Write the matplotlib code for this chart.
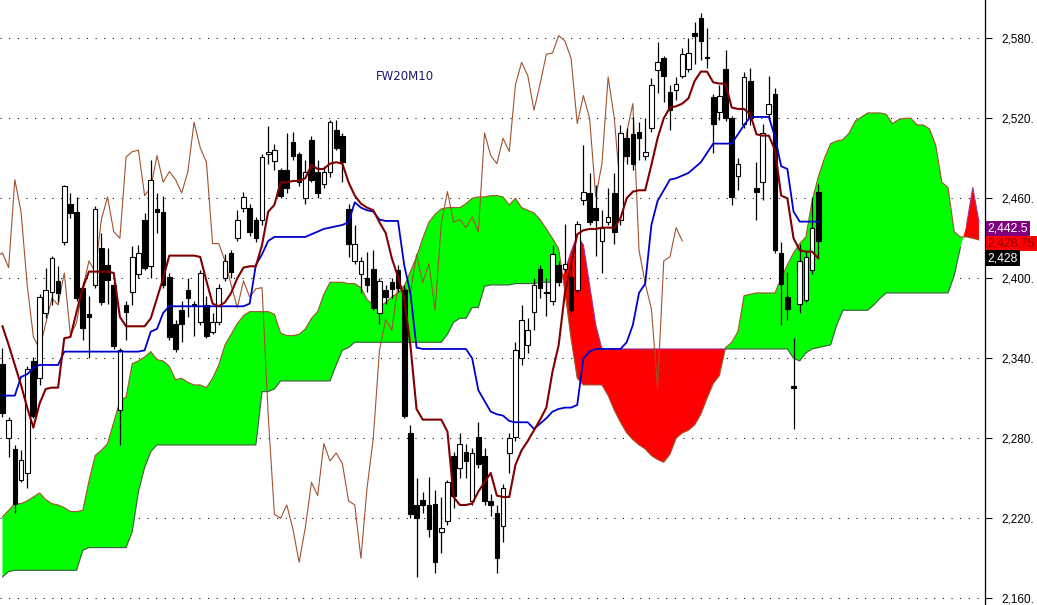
import numpy as np
import matplotlib
matplotlib.use("Agg")
import matplotlib.pyplot as plt

chart_title = "FW20M10"

# daily candles (open, high, low, close)
opens = [2336, 2280, 2272, 2249, 2254, 2338, 2325, 2374, 2390, 2398,
         2427, 2456, 2450, 2393, 2373, 2395, 2423, 2410, 2395, 2301,
         2380, 2390, 2403, 2444, 2409, 2452, 2450, 2401, 2366, 2376,
         2391, 2381, 2367, 2380, 2360, 2367, 2400, 2419, 2430, 2453,
         2453, 2444, 2444, 2493, 2488, 2481, 2481, 2502, 2493, 2460,
         2504, 2480, 2471, 2480, 2511, 2507, 2452, 2413, 2403, 2400,
         2407, 2374, 2391, 2397, 2406, 2391, 2284, 2230, 2234, 2230,
         2231, 2210, 2218, 2267, 2258, 2270, 2233, 2281, 2267, 2233,
         2224, 2214, 2269, 2281, 2340, 2350, 2375, 2407, 2390, 2383,
         2410, 2407, 2401, 2391, 2459, 2464, 2453, 2428, 2442, 2464,
         2444, 2505, 2508, 2510, 2492, 2513, 2556, 2565, 2540, 2541,
         2552, 2557, 2584, 2595, 2566, 2536, 2525, 2557, 2520, 2477,
         2516, 2548, 2468, 2472, 2523, 2538, 2419, 2386, 2319, 2381,
         2384, 2406, 2465]
highs = [2348, 2296, 2275, 2271, 2334, 2341, 2388, 2408, 2417, 2409,
         2470, 2464, 2461, 2397, 2387, 2454, 2434, 2423, 2397, 2348,
         2383, 2424, 2425, 2449, 2489, 2464, 2462, 2404, 2369, 2383,
         2400, 2383, 2406, 2387, 2374, 2396, 2418, 2421, 2451, 2465,
         2456, 2446, 2493, 2514, 2501, 2483, 2509, 2510, 2495, 2489,
         2507, 2489, 2484, 2519, 2519, 2509, 2456, 2440, 2416, 2420,
         2421, 2400, 2395, 2400, 2410, 2395, 2290, 2250, 2240, 2251,
         2241, 2236, 2249, 2270, 2284, 2276, 2273, 2292, 2273, 2238,
         2230, 2246, 2284, 2352, 2380, 2370, 2400, 2410, 2400, 2425,
         2413, 2441, 2411, 2443, 2500, 2479, 2470, 2451, 2468, 2479,
         2515, 2513, 2521, 2517, 2520, 2550, 2577, 2567, 2545, 2551,
         2573, 2580, 2592, 2599, 2588, 2538, 2545, 2571, 2522, 2490,
         2555, 2558, 2487, 2516, 2552, 2543, 2427, 2405, 2355, 2426,
         2420, 2461, 2471]
lows = [2296, 2266, 2224, 2247, 2243, 2295, 2320, 2370, 2380, 2382,
        2425, 2445, 2383, 2354, 2340, 2393, 2380, 2381, 2347, 2275,
        2354, 2380, 2400, 2406, 2400, 2434, 2393, 2354, 2345, 2352,
        2371, 2357, 2365, 2355, 2358, 2365, 2398, 2400, 2428, 2450,
        2432, 2427, 2440, 2486, 2481, 2460, 2464, 2489, 2469, 2456,
        2472, 2460, 2468, 2476, 2496, 2472, 2416, 2411, 2389, 2390,
        2376, 2366, 2381, 2385, 2390, 2295, 2220, 2176, 2224, 2206,
        2179, 2194, 2215, 2228, 2250, 2250, 2230, 2258, 2230, 2222,
        2179, 2202, 2254, 2278, 2335, 2344, 2361, 2385, 2372, 2380,
        2394, 2404, 2373, 2389, 2455, 2440, 2417, 2404, 2440, 2426,
        2440, 2486, 2481, 2489, 2489, 2510, 2539, 2532, 2511, 2534,
        2550, 2555, 2561, 2564, 2558, 2494, 2519, 2518, 2455, 2466,
        2513, 2515, 2444, 2459, 2520, 2419, 2365, 2369, 2287, 2374,
        2382, 2403, 2416]
closes = [2299, 2294, 2231, 2264, 2332, 2297, 2386, 2391, 2415, 2389,
          2469, 2449, 2385, 2363, 2371, 2452, 2382, 2399, 2349, 2346,
          2375, 2416, 2419, 2408, 2474, 2450, 2395, 2356, 2347, 2366,
          2385, 2380, 2404, 2357, 2367, 2393, 2413, 2405, 2444, 2461,
          2435, 2430, 2491, 2495, 2496, 2462, 2468, 2492, 2472, 2480,
          2474, 2464, 2480, 2517, 2498, 2487, 2426, 2426, 2413, 2395,
          2378, 2398, 2386, 2392, 2393, 2297, 2223, 2220, 2230, 2212,
          2187, 2213, 2247, 2237, 2276, 2263, 2269, 2261, 2233, 2230,
          2190, 2243, 2280, 2346, 2369, 2361, 2395, 2393, 2389, 2418,
          2397, 2411, 2376, 2441, 2465, 2442, 2444, 2438, 2446, 2435,
          2509, 2492, 2486, 2505, 2495, 2545, 2562, 2552, 2526, 2546,
          2568, 2569, 2582, 2578, 2565, 2516, 2537, 2520, 2461, 2486,
          2551, 2520, 2465, 2509, 2531, 2421, 2396, 2377, 2318, 2413,
          2416, 2438, 2428]

tenkan = [2364, 2350, 2335, 2320, 2303, 2288, 2306, 2317, 2318, 2318,
          2355, 2356, 2375, 2393, 2405, 2405, 2405, 2405, 2404, 2371,
          2364, 2364, 2364, 2364, 2370, 2385, 2400, 2417, 2417, 2417,
          2417, 2417, 2416, 2398, 2381, 2379, 2382, 2389, 2400, 2408,
          2409, 2409, 2425, 2450, 2455, 2472, 2472, 2473, 2473, 2475,
          2485, 2482, 2482, 2486, 2487, 2486, 2472, 2462, 2456, 2453,
          2451, 2442, 2434, 2415, 2401, 2385, 2350, 2302, 2294, 2294,
          2294, 2294, 2285, 2236, 2230, 2230, 2231, 2240, 2247, 2254,
          2237, 2236, 2236, 2260, 2271, 2278, 2286, 2294, 2303, 2330,
          2350, 2389, 2410, 2433, 2436, 2437, 2437, 2438, 2438, 2438,
          2445, 2460, 2465, 2466, 2466, 2485, 2505, 2520, 2528, 2529,
          2531, 2535, 2548, 2555, 2555, 2547, 2546, 2546, 2528, 2527,
          2527, 2523, 2508, 2507, 2507, 2496, 2462, 2460, 2430, 2421,
          2420, 2420, 2415]
kijun = [2312, 2312, 2312, 2326, 2328, 2333, 2335, 2335, 2335, 2335,
         2345, 2345, 2345, 2345, 2345, 2345, 2345, 2345, 2345, 2345,
         2345, 2345, 2345, 2346, 2360, 2362, 2374, 2379, 2379, 2379,
         2379, 2379, 2379, 2379, 2379, 2379, 2379, 2379, 2379, 2379,
         2381, 2410, 2418, 2428, 2431, 2431, 2431, 2431, 2431, 2431,
         2433, 2435, 2437, 2438, 2439, 2440, 2442, 2457, 2453, 2451,
         2450, 2444, 2443, 2443, 2443, 2410, 2389, 2348, 2347, 2347,
         2347, 2347, 2347, 2347, 2347, 2347, 2340, 2316, 2308, 2300,
         2298, 2297, 2293, 2292, 2292, 2292, 2287, 2291, 2295, 2300,
         2302, 2303, 2303, 2305, 2340, 2345, 2347, 2347, 2347, 2347,
         2347, 2352, 2365, 2389, 2396, 2440, 2458, 2466, 2474, 2475,
         2477, 2479, 2483, 2487, 2494, 2501, 2501, 2501, 2501, 2508,
         2515, 2521, 2521, 2521, 2521, 2506, 2484, 2482, 2450, 2442.5,
         2442.5, 2442.5, 2442.5]

# leading spans, already displaced 26 bars ahead
span_a = [2221, 2226, 2231, 2231, 2233, 2236, 2239, 2234, 2231, 2230,
          2228, 2225, 2225, 2226, 2248, 2267, 2271, 2276, 2292, 2308,
          2311, 2336, 2338, 2341, 2345, 2339, 2338, 2334, 2324, 2325,
          2322, 2320, 2320, 2318, 2325, 2335, 2350, 2358, 2366, 2372,
          2375, 2375, 2375, 2375, 2373, 2359, 2357, 2357, 2358, 2362,
          2370, 2375, 2388, 2397, 2397, 2397, 2396, 2396, 2393, 2384,
          2380, 2378, 2382, 2386, 2389, 2394, 2405, 2416, 2430, 2442,
          2448, 2452, 2453, 2453, 2453, 2456, 2460, 2461, 2461, 2462,
          2462, 2461, 2455, 2460, 2453, 2451, 2449, 2444, 2437, 2430,
          2422, 2390, 2355, 2325, 2320, 2320, 2320, 2320, 2312, 2301,
          2292, 2284, 2279, 2275, 2272, 2267, 2264, 2262, 2268, 2280,
          2284, 2286, 2290, 2298, 2310, 2321, 2327, 2348, 2352, 2360,
          2387, 2388, 2389, 2389, 2389, 2389, 2400, 2410, 2419, 2426,
          2431, 2458, 2476, 2490, 2501, 2503, 2504, 2509, 2518, 2521,
          2524, 2524, 2524, 2523, 2516, 2519, 2520, 2520, 2515, 2515,
          2512, 2500, 2472, 2468, 2435, 2431, 2431, 2430, 2428.75]
span_b = [2176, 2180] + [2181] * 11 + [2196] + [2198] * 7 + \
         [2210, 2240, 2258, 2270] + [2275] * 17 + [2315, 2315, 2317] + \
         [2323] * 9 + [2335, 2346, 2348] + [2352] * 15 + \
         [2358, 2367, 2370, 2370, 2378, 2378, 2394] + [2395] * 4 + \
         [2396] * 4 + [2397] * 4 + [2405, 2420, 2432, 2425, 2395, 2365] + \
         [2347] * 31 + [2340, 2338, 2344, 2347, 2348, 2349, 2350, 2365] + \
         [2376] * 5 + [2380, 2385] + [2389] * 11 + \
         [2402, 2423, 2440, 2468, 2442.5]

chikou_shift = 22
y_ticks = [2160, 2220, 2280, 2340, 2400, 2460, 2520, 2580]
last_values = [("2,442.5", 2442.5, "#800080", "white", -5),
               ("2,428.75", 2428.75, "#ff0000", "#800000", -2.5),
               ("2,428", 2428, "black", "white", -12.5)]

o = np.array(opens, float)
h = np.array(highs, float)
l = np.array(lows, float)
c = np.array(closes, float)
a = np.array(span_a, float)
b = np.array(span_b, float)
n = len(c)
xs = np.arange(n)
xc = np.arange(len(a))

fig = plt.figure(figsize=(10.37, 6.05), dpi=100)
ax = fig.add_axes([0, 0, 985 / 1037, 1])

# cloud
ax.fill_between(xc, a, b, where=a >= b, interpolate=True, color="#00ff00", lw=0, zorder=1)
ax.fill_between(xc, a, b, where=a < b, interpolate=True, color="#ff0000", lw=0, zorder=1)
ax.plot(xc, a, color="#a0522d", lw=0.8, zorder=1.5)
ax.plot(xc, np.ma.masked_where(b > a + 1, b), color="#3c5a3c", lw=0.8, zorder=1.5)
ax.plot(xc, np.ma.masked_where(b < a - 1, b), color="#993399", lw=0.8, zorder=1.4)

# lagging span
ax.plot(xs - chikou_shift, c, color="#a0522d", lw=0.8, zorder=2)

# candles
up = c >= o
ax.vlines(xs, l, h, color="black", lw=0.9, zorder=3)
ax.bar(xs, np.abs(c - o), bottom=np.minimum(o, c), width=0.75,
       color=np.where(up, "white", "black"), edgecolor="black", lw=0.8, zorder=3.5)

ax.plot(xs, kijun, color="#0000cc", lw=1.3, zorder=4)
ax.plot(xs, tenkan, color="#800000", lw=1.5, zorder=4.5)

ax.text(0.411, 0.874, chart_title, transform=ax.transAxes, ha="center", va="center",
        fontsize=8.5, color="#1a1a66")

ax.set_xlim(-0.4, 158.98)
ax.set_ylim(2154.97, 2608.7)
for s in ["left", "top", "bottom"]:
    ax.spines[s].set_visible(False)
ax.spines["right"].set_linewidth(0.9)
ax.set_xticks([])
ax.yaxis.tick_right()
ax.set_yticks(y_ticks)
ax.set_yticklabels([f"{v:,}." for v in y_ticks], fontsize=8.5, family="Liberation Sans")
ax.tick_params(axis="y", direction="out", length=5, width=0.8, pad=7)
ax.grid(axis="y", color="black", lw=0.75, linestyle=(0, (1, 7.3)), zorder=0)
ax.set_axisbelow(True)

for txt, val, bg, fg, dy in last_values:
    ax.annotate(txt, xy=(1, val), xycoords=("axes fraction", "data"),
                xytext=(1.8, dy), textcoords="offset points", ha="left", va="center",
                fontsize=8.8, family="Liberation Sans", color=fg, annotation_clip=False,
                bbox=dict(boxstyle="square,pad=0.15", fc=bg, ec="none"))

fig.savefig("out.png", dpi=100)
